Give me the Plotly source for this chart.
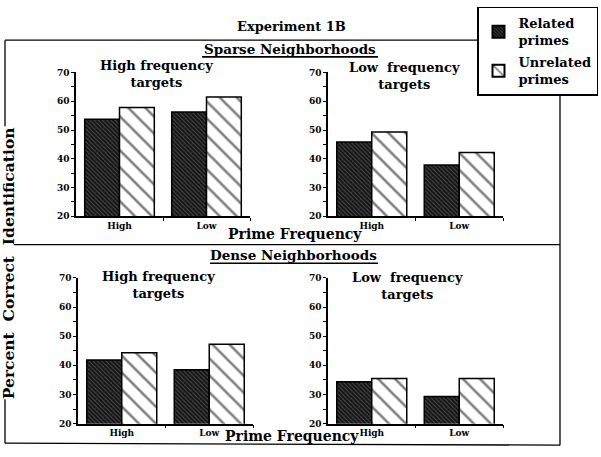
import plotly.graph_objects as go

W, H = 601, 457

categories = ["High", "Low"]
sparse_hf_related = [53.7, 56.3]
sparse_hf_unrelated = [57.8, 61.5]
sparse_lf_related = [45.8, 37.8]
sparse_lf_unrelated = [49.3, 42.2]
dense_hf_related = [41.8, 38.5]
dense_hf_unrelated = [44.3, 47.2]
dense_lf_related = [34.4, 29.3]
dense_lf_unrelated = [35.5, 35.5]
y_ticks = [20, 30, 40, 50, 60, 70]
y_minor = [25, 35, 45, 55, 65]
series_names = ["Related<br>primes", "Unrelated<br>primes"]

FONT = "DejaVu Serif"


def px(x):
    return x / W


def py(y):
    return 1 - y / H


x_pos = list(range(len(categories)))

panels = [
    (sparse_hf_related, sparse_hf_unrelated, (76, 250), (69, 216)),
    (sparse_lf_related, sparse_lf_unrelated, (328, 503), (69, 216)),
    (dense_hf_related, dense_hf_unrelated, (78, 253), (279, 428)),
    (dense_lf_related, dense_lf_unrelated, (328, 503), (279, 428)),
]

fig = go.Figure()

rel_pattern = dict(shape="\\", bgcolor="#151515", fgcolor="#8a8a8a", size=3, solidity=0.3)
unrel_pattern = dict(shape="\\", bgcolor="white", fgcolor="black", size=12, solidity=0.22)

layout_axes = {}
for i, (rel, unrel, xd, yd) in enumerate(panels):
    n = i + 1
    xa = "x" if n == 1 else f"x{n}"
    ya = "y" if n == 1 else f"y{n}"
    fig.add_trace(go.Bar(
        x=x_pos, y=rel, name=series_names[0], xaxis=xa, yaxis=ya,
        marker=dict(color="#151515", pattern=rel_pattern, line=dict(color="black", width=1.5)),
        showlegend=(n == 1), legendgroup="rel",
    ))
    fig.add_trace(go.Bar(
        x=x_pos, y=unrel, name=series_names[1], xaxis=xa, yaxis=ya,
        marker=dict(color="white", pattern=unrel_pattern, line=dict(color="black", width=1.5)),
        showlegend=(n == 1), legendgroup="unrel",
    ))
    xkey = "xaxis" if n == 1 else f"xaxis{n}"
    ykey = "yaxis" if n == 1 else f"yaxis{n}"
    layout_axes[xkey] = dict(
        domain=[px(xd[0]), px(xd[1])], anchor=ya, range=[-0.5, 1.5],
        tickmode="array", tickvals=x_pos, ticktext=categories, ticks="",
        showline=True, linecolor="black", linewidth=1.5, showgrid=False, zeroline=False,
        tickfont=dict(family=FONT, size=9, color="black", weight="bold"),
        minor=dict(tickvals=[0.5, 1.5], ticks="outside", ticklen=3, tickwidth=1.3, tickcolor="black"),
        fixedrange=True,
    )
    layout_axes[ykey] = dict(
        domain=[py(yd[1]), py(yd[0])], anchor=xa, range=[20, 70],
        tickmode="array", tickvals=y_ticks, ticks="outside", ticklen=3, tickwidth=1.3, tickcolor="black",
        showline=True, linecolor="black", linewidth=1.5, showgrid=False, zeroline=False,
        tickfont=dict(family=FONT, size=9, color="black", weight="bold"),
        minor=dict(tickvals=y_minor, ticks="outside", ticklen=3, tickwidth=1.3, tickcolor="black"),
        fixedrange=True,
    )
    ox = f"xaxis{n + 4}"
    oy = f"yaxis{n + 4}"
    layout_axes[ox] = dict(
        overlaying=xa, anchor=ya, range=[-0.5, 1.5], side="bottom",
        tickmode="array", tickvals=[0.5, 1.5], ticks="inside", ticklen=3, tickwidth=1.3,
        tickcolor="black", showticklabels=False, showline=False, showgrid=False, zeroline=False,
        fixedrange=True,
    )
    layout_axes[oy] = dict(
        overlaying=ya, anchor=xa, range=[20, 70], side="left",
        tickmode="array", tickvals=y_ticks + y_minor, ticks="inside", ticklen=3, tickwidth=1.3,
        tickcolor="black", showticklabels=False, showline=False, showgrid=False, zeroline=False,
        fixedrange=True,
    )

fig.update_layout(**layout_axes)


def line(x0, y0, x1, y1, w=1.3):
    fig.add_shape(type="line", xref="paper", yref="paper",
                  x0=px(x0), y0=py(y0), x1=px(x1), y1=py(y1),
                  line=dict(color="black", width=w))


# frame
line(5, 36, 477, 36)
line(5, 36, 5, 124)
line(5, 403, 5, 448)
line(5, 448, 560, 450)
line(560, 89, 560, 450)
line(14, 245, 560, 245)
# underlines
line(202, 53, 378, 53, 1.6)
line(210, 264, 378, 264, 1.6)


def text(x, y, s, size, bold=True, angle=0, xanchor="center"):
    fig.add_annotation(
        x=px(x), y=py(y), xref="paper", yref="paper", text=s, showarrow=False,
        xanchor=xanchor, yanchor="middle", textangle=angle,
        font=dict(family=FONT, size=size, color="black", weight="bold" if bold else "normal"),
    )


text(291, 22, "Experiment 1B", 13)
text(290, 45, "Sparse Neighborhoods", 13.5)
text(293, 256, "Dense Neighborhoods", 13.5)
text(295, 234, "Prime Frequency", 14)
text(292, 441, "Prime Frequency", 14)
text(8, 264, "Percent&nbsp; Correct&nbsp; Identification", 15.5, angle=-90)

text(156, 71, "High frequency<br>targets", 13)
text(404, 73, "Low&nbsp; frequency<br>targets", 13)
text(158, 286, "High frequency<br>targets", 13)
text(407, 287, "Low&nbsp; frequency<br>targets", 13)

fig.update_layout(
    width=W, height=H,
    margin=dict(l=0, r=0, t=0, b=0),
    paper_bgcolor="white", plot_bgcolor="white",
    barmode="group", bargap=0.2, bargroupgap=0,
    showlegend=True,
    legend=dict(
        x=px(598), y=py(2), xanchor="right", yanchor="top",
        bordercolor="black", borderwidth=1.5, bgcolor="white",
        font=dict(family=FONT, size=13, color="black", weight="bold"),
        tracegroupgap=2, itemsizing="constant", itemwidth=30,
    ),
)

fig.write_html("out.html", config={"displayModeBar": False},
               post_script="document.body.style.margin='0';document.body.style.padding='0';")
